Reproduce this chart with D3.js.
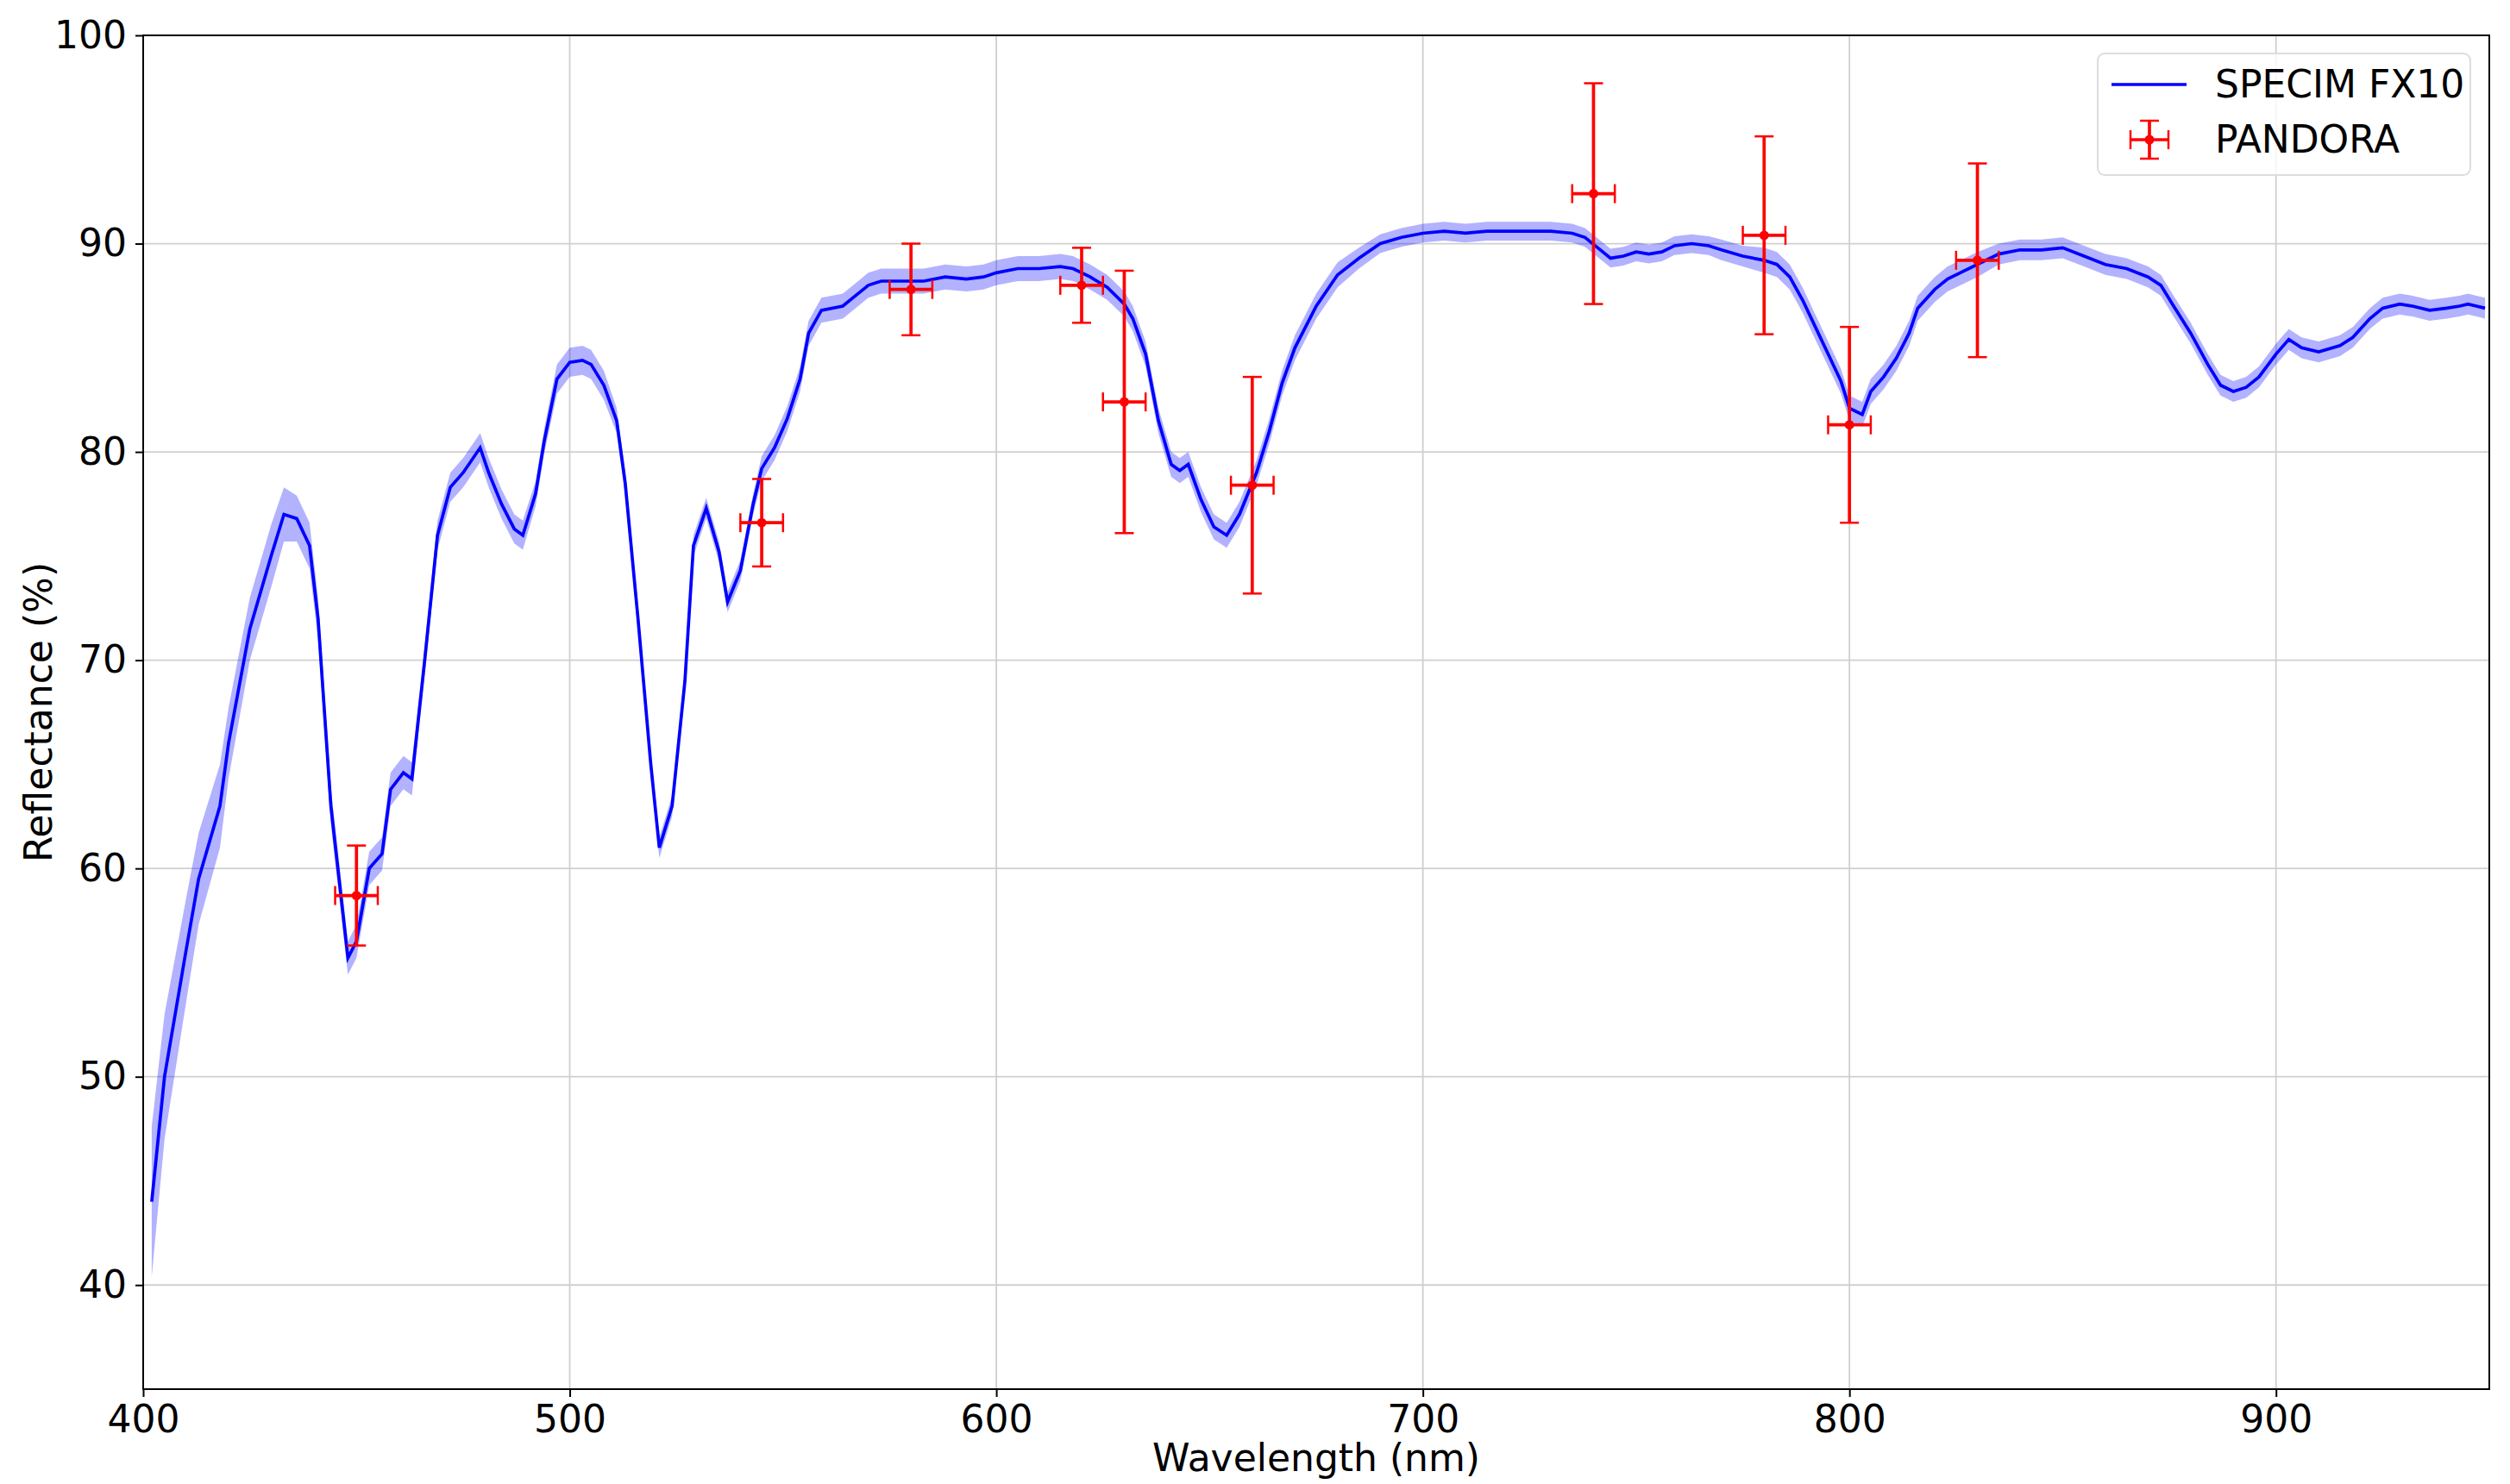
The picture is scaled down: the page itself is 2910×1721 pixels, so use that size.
<!DOCTYPE html>
<html><head><meta charset="utf-8">
<script src="https://cdn.jsdelivr.net/npm/d3@7"></script>
<style>body{margin:0;background:#fff}text{font-family:"DejaVu Sans",sans-serif}</style>
</head><body><svg id="c" width="2910" height="1721"></svg>
<script>
const xTicks=[400,500,600,700,800,900];
const yTicks=[40,50,60,70,80,90,100];
// [wavelength, mean reflectance, band half-width]
const specim=[[402,44,3.6],[405,50,3],[410,56,2.5],[413,59.5,2.2],[418,63,2],[420,66,1.7],[425,71.5,1.5],[430,75,1.5],[433,77,1.3],[436,76.8,1.1],[439,75.5,1.1],[441,72,1],[444,63,0.9],[448,55.7,0.8],[450,56.5,0.8],[453,60,0.8],[456,60.7,0.8],[458,63.8,0.8],[461,64.6,0.8],[463,64.3,0.8],[466,70,0.7],[469,76,0.7],[472,78.3,0.7],[475,79,0.7],[479,80.2,0.7],[481,79,0.7],[484,77.5,0.7],[487,76.3,0.7],[489,76,0.7],[492,78,0.6],[494,80.5,0.6],[497,83.5,0.7],[500,84.3,0.7],[503,84.4,0.7],[505,84.2,0.7],[508,83.2,0.7],[511,81.5,0.6],[513,78.5,0.6],[516,72,0.6],[519,65,0.5],[521,61,0.5],[524,63,0.5],[527,69,0.5],[529,75.5,0.5],[532,77.3,0.5],[535,75.2,0.5],[537,72.8,0.5],[540,74.3,0.5],[543,77.5,0.5],[545,79.2,0.6],[548,80.2,0.6],[551,81.6,0.6],[554,83.5,0.6],[556,85.7,0.6],[559,86.8,0.6],[564,87,0.6],[567,87.5,0.6],[570,88,0.6],[573,88.2,0.6],[578,88.2,0.6],[583,88.2,0.6],[588,88.4,0.6],[593,88.3,0.6],[597,88.4,0.6],[600,88.6,0.6],[605,88.8,0.6],[610,88.8,0.6],[615,88.9,0.6],[618,88.8,0.6],[622,88.4,0.6],[626,87.9,0.6],[630,87.1,0.6],[632,86.4,0.6],[635,84.7,0.6],[638,81.5,0.6],[641,79.4,0.6],[643,79.1,0.6],[645,79.4,0.6],[648,77.7,0.6],[651,76.4,0.6],[654,76,0.6],[657,77,0.6],[661,79,0.6],[664,81,0.6],[667,83.3,0.6],[670,85,0.6],[675,87,0.6],[680,88.5,0.6],[685,89.3,0.5],[690,90,0.45],[695,90.3,0.45],[700,90.5,0.45],[705,90.6,0.45],[710,90.5,0.45],[715,90.6,0.45],[720,90.6,0.45],[725,90.6,0.45],[730,90.6,0.45],[735,90.5,0.45],[738,90.3,0.45],[741,89.8,0.45],[744,89.3,0.45],[747,89.4,0.45],[750,89.6,0.45],[753,89.5,0.45],[756,89.6,0.45],[759,89.9,0.45],[763,90.0,0.45],[767,89.9,0.45],[770,89.7,0.5],[775,89.4,0.5],[780,89.2,0.6],[783,89,0.6],[786,88.4,0.6],[789,87.3,0.6],[792,86,0.6],[795,84.7,0.6],[798,83.4,0.6],[800,82.1,0.6],[803,81.8,0.6],[805,82.9,0.6],[808,83.6,0.6],[811,84.5,0.6],[814,85.7,0.6],[816,86.9,0.6],[820,87.8,0.6],[823,88.3,0.6],[827,88.7,0.6],[830,89,0.6],[835,89.5,0.5],[840,89.7,0.5],[845,89.7,0.5],[850,89.8,0.5],[855,89.4,0.5],[860,89,0.5],[865,88.8,0.5],[870,88.4,0.5],[873,88,0.5],[876,87,0.5],[880,85.7,0.5],[884,84.2,0.5],[887,83.2,0.5],[890,82.9,0.5],[893,83.1,0.5],[896,83.6,0.5],[900,84.7,0.5],[903,85.4,0.5],[906,85,0.5],[910,84.8,0.5],[915,85.1,0.5],[918,85.5,0.5],[922,86.4,0.5],[925,86.9,0.5],[929,87.1,0.5],[932,87,0.5],[936,86.8,0.5],[940,86.9,0.5],[943,87,0.5],[945,87.1,0.5],[947,87,0.5],[949,86.9,0.5]];
const pandoraX=[450,545,580,620,630,660,740,780,800,830];
const pandoraY=[58.7,76.6,87.8,88.0,82.4,78.4,92.4,90.4,81.3,89.2];
const pandoraYErr=[2.4,2.1,2.2,1.8,6.3,5.2,5.3,4.75,4.7,4.65];
const pandoraXErr=[5,5,5,5,5,5,5,5,5,5];

const L=166,R=2886,T=41,B=1611;
const svg=d3.select("#c");
const x=d3.scaleLinear().domain([400,950]).range([L,R]);
const y=d3.scaleLinear().domain([35,100]).range([B,T]);
const g=svg.append("g");
g.selectAll(".gx").data(xTicks).join("line").attr("x1",d=>x(d)).attr("x2",d=>x(d)).attr("y1",T).attr("y2",B).attr("stroke","#cfcfcf").attr("stroke-width",1.8);
g.selectAll(".gy").data(yTicks).join("line").attr("y1",d=>y(d)).attr("y2",d=>y(d)).attr("x1",L).attr("x2",R).attr("stroke","#cfcfcf").attr("stroke-width",1.8);
svg.append("path").datum(specim).attr("fill","blue").attr("fill-opacity",0.3)
 .attr("d",d3.area().x(d=>x(d[0])).y0(d=>y(d[1]-d[2])).y1(d=>y(d[1]+d[2])));
svg.append("path").datum(specim).attr("fill","none").attr("stroke","blue").attr("stroke-width",3.7)
 .attr("d",d3.line().x(d=>x(d[0])).y(d=>y(d[1])));
const pd=pandoraX.map((v,i)=>({x:v,y:pandoraY[i],ye:pandoraYErr[i],xe:pandoraXErr[i]}));
const pg=svg.append("g").attr("stroke","red").attr("stroke-width",3.7);
const cap=11;
pd.forEach(d=>{
 const cx=x(d.x),cy=y(d.y);
 pg.append("line").attr("x1",cx).attr("x2",cx).attr("y1",y(d.y-d.ye)).attr("y2",y(d.y+d.ye));
 pg.append("line").attr("x1",x(d.x-d.xe)).attr("x2",x(d.x+d.xe)).attr("y1",cy).attr("y2",cy);
 [d.y-d.ye,d.y+d.ye].forEach(v=>pg.append("line").attr("x1",cx-cap).attr("x2",cx+cap).attr("y1",y(v)).attr("y2",y(v)).attr("stroke-width",2.5));
 [d.x-d.xe,d.x+d.xe].forEach(v=>pg.append("line").attr("x1",x(v)).attr("x2",x(v)).attr("y1",cy-cap).attr("y2",cy+cap).attr("stroke-width",2.5));
 svg.append("circle").attr("cx",cx).attr("cy",cy).attr("r",5.5).attr("fill","red");
});
const xa=svg.append("g").attr("transform",`translate(0,${B})`).call(d3.axisBottom(x).tickValues(xTicks).tickSize(9).tickPadding(10));
const ya=svg.append("g").attr("transform",`translate(${L},0)`).call(d3.axisLeft(y).tickValues(yTicks).tickSize(9).tickPadding(10));
[xa,ya].forEach(a=>{a.select(".domain").remove();a.selectAll("text").attr("font-size",44).attr("font-family","DejaVu Sans").attr("fill","#000");a.selectAll("line").attr("stroke","#000").attr("stroke-width",2);});
svg.append("rect").attr("x",L).attr("y",T).attr("width",R-L).attr("height",B-T).attr("fill","none").attr("stroke","#000").attr("stroke-width",2);
svg.append("text").attr("x",(L+R)/2).attr("y",1706).attr("text-anchor","middle").attr("font-size",44).text("Wavelength (nm)");
svg.append("text").attr("transform",`translate(60,${(T+B)/2}) rotate(-90)`).attr("text-anchor","middle").attr("font-size",44).text("Reflectance (%)");
// legend
const lg=svg.append("g");
lg.append("rect").attr("x",2432).attr("y",62).attr("width",432).attr("height",141).attr("rx",8).attr("fill","#fff").attr("fill-opacity",0.8).attr("stroke","#ddd").attr("stroke-width",2);
lg.append("line").attr("x1",2448).attr("x2",2535).attr("y1",98).attr("y2",98).attr("stroke","blue").attr("stroke-width",3.7);
const lx=2492,ly=162;
lg.append("line").attr("x1",lx).attr("x2",lx).attr("y1",ly-22).attr("y2",ly+22).attr("stroke","red").attr("stroke-width",3.7);
lg.append("line").attr("x1",lx-22).attr("x2",lx+22).attr("y1",ly).attr("y2",ly).attr("stroke","red").attr("stroke-width",3.7);
[[lx-11,ly-22,lx+11,ly-22],[lx-11,ly+22,lx+11,ly+22],[lx-22,ly-11,lx-22,ly+11],[lx+22,ly-11,lx+22,ly+11]].forEach(c=>lg.append("line").attr("x1",c[0]).attr("y1",c[1]).attr("x2",c[2]).attr("y2",c[3]).attr("stroke","red").attr("stroke-width",2.5));
lg.append("circle").attr("cx",lx).attr("cy",ly).attr("r",5.5).attr("fill","red");
lg.append("text").attr("x",2568).attr("y",113).attr("font-size",44).text("SPECIM FX10");
lg.append("text").attr("x",2568).attr("y",177).attr("font-size",44).text("PANDORA");
</script></body></html>
